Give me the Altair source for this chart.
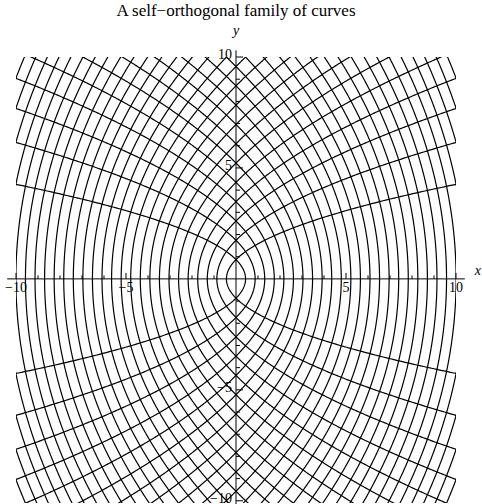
import altair as alt
import pandas as pd

# Contour levels c of the confocal parabolas y^2 = 2*c*x + c^2 (focus at the origin).
# direction +1: parabolas opening to the right, -1: opening to the left.
levels = [0.87, 1.74, 2.61, 3.48, 4.35, 5.22, 6.09, 6.96, 7.83, 8.70,
          9.57, 10.44, 11.31, 12.18, 13.05, 13.92, 14.79, 15.66, 16.53, 17.40,
          18.27, 19.14, 20.01, 20.88, 21.75, 22.62, 23.49, 24.36]
directions = [1, -1]

x_major = [-10, -5, 5, 10]
x_minor = [-9, -8, -7, -6, -4, -3, -2, -1, 1, 2, 3, 4, 6, 7, 8, 9]
x_labels = ["\u221210", "\u22125", "5", "10"]
y_major = [-10, -5, 5, 10]
y_minor = [-9, -8, -7, -6, -4, -3, -2, -1, 1, 2, 3, 4, 6, 7, 8, 9]
y_labels = ["\u221210", "\u22125", "5", "10"]

TITLE = "A self\u2212orthogonal family of curves"
SERIF = "Liberation Serif"

families = pd.DataFrame(
    [{"c": c, "dir": d, "key": f"{d}_{c}"} for d in directions for c in levels]
)

xs = alt.Scale(domain=[-10, 10], nice=False, zero=False)
ys_ = alt.Scale(domain=[-10.1, 10], nice=False, zero=False)

curves = (
    alt.Chart(families)
    .transform_calculate(t="sequence(-10.6, 10.61, 0.04)")
    .transform_flatten(["t"])
    .transform_calculate(px="datum.dir * (datum.t * datum.t - datum.c * datum.c) / (2 * datum.c)")
    .transform_filter("abs(datum.px) < 12")
    .mark_line(clip=True, color="black", strokeWidth=1.2)
    .encode(
        x=alt.X("px:Q", scale=xs, axis=None),
        y=alt.Y("t:Q", scale=ys_, axis=None),
        detail="key:N",
        order="t:Q",
    )
)

axis_style = dict(color="black", strokeWidth=1)

x_axis_line = alt.Chart().mark_rule(**axis_style).encode(
    x=alt.datum(-10.4, scale=xs), x2=alt.datum(10.4), y=alt.datum(0, scale=ys_)
)
y_axis_line = alt.Chart().mark_rule(**axis_style).encode(
    x=alt.datum(0, scale=xs), y=alt.datum(10.3, scale=ys_), y2=alt.datum(-10.6)
)

x_major_ticks = alt.Chart(pd.DataFrame({"v": x_major})).mark_rule(
    y2Offset=-6, **axis_style
).encode(x=alt.X("v:Q", scale=xs), y=alt.datum(0, scale=ys_), y2=alt.datum(0))
x_minor_ticks = alt.Chart(pd.DataFrame({"v": x_minor})).mark_rule(
    y2Offset=-3.5, **axis_style
).encode(x=alt.X("v:Q", scale=xs), y=alt.datum(0, scale=ys_), y2=alt.datum(0))
y_major_ticks = alt.Chart(pd.DataFrame({"v": y_major})).mark_rule(
    x2Offset=7, **axis_style
).encode(y=alt.Y("v:Q", scale=ys_), x=alt.datum(0, scale=xs), x2=alt.datum(0))
y_minor_ticks = alt.Chart(pd.DataFrame({"v": y_minor})).mark_rule(
    x2Offset=4, **axis_style
).encode(y=alt.Y("v:Q", scale=ys_), x=alt.datum(0, scale=xs), x2=alt.datum(0))

x_tick_labels = alt.Chart(pd.DataFrame({"v": x_major, "lab": x_labels})).mark_text(
    font=SERIF, fontSize=14, baseline="top", align="center", dy=2, color="black"
).encode(x=alt.X("v:Q", scale=xs), y=alt.datum(0, scale=ys_), text="lab:N")
y_tick_labels = alt.Chart(pd.DataFrame({"v": y_major, "lab": y_labels})).mark_text(
    font=SERIF, fontSize=14, baseline="middle", align="right", dx=-4, dy=-2, color="black"
).encode(y=alt.Y("v:Q", scale=ys_), x=alt.datum(0, scale=xs), text="lab:N")

x_name = alt.Chart().mark_text(
    font=SERIF, fontSize=14, fontStyle="italic", align="left", baseline="middle",
    dx=10, dy=-8, color="black",
).encode(x=alt.datum(10.4, scale=xs), y=alt.datum(0, scale=ys_), text=alt.value("x"))
y_name = alt.Chart().mark_text(
    font=SERIF, fontSize=14, fontStyle="italic", align="center", baseline="bottom",
    dy=-12, color="black",
).encode(x=alt.datum(0, scale=xs), y=alt.datum(10.3, scale=ys_), text=alt.value("y"))

chart = (
    alt.layer(
        curves, x_axis_line, y_axis_line, x_major_ticks, x_minor_ticks,
        y_major_ticks, y_minor_ticks, x_tick_labels, y_tick_labels, x_name, y_name,
    )
    .properties(
        width=440,
        height=446,
        autosize=alt.AutoSizeParams(type="none"),
        padding={"left": 16, "top": 57, "right": 26, "bottom": 1},
        title=alt.TitleParams(
            TITLE, font=SERIF, fontSize=17, fontWeight="normal", color="black",
            anchor="middle", frame="group", offset=4,
        ),
        background="white",
    )
    .configure_view(stroke=None)
)

chart.save("out.html", embed_options={"renderer": "svg", "actions": False})
